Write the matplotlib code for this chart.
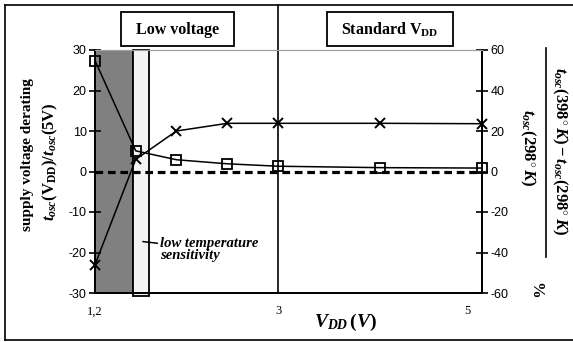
import matplotlib
matplotlib.use('Agg')
import matplotlib.pyplot as plt
from matplotlib.patches import Rectangle
from matplotlib.lines import Line2D
import matplotlib.transforms as mtransforms

plt.rcParams['font.family'] = ['Liberation Sans', 'DejaVu Sans']
plt.rcParams['axes.unicode_minus'] = False
plt.rcParams['mathtext.fontset'] = 'custom'
plt.rcParams['mathtext.rm'] = 'Liberation Serif:bold'
plt.rcParams['mathtext.it'] = 'Liberation Serif:italic:bold'
plt.rcParams['mathtext.bf'] = 'Liberation Serif:bold'

# data
vdd = [1.2, 1.6, 2.0, 2.5, 3.0, 4.0, 5.0]
derating = [27.4, 5.1, 2.9, 1.9, 1.3, 0.95, 0.85]       # left axis, squares
temp_sens = [-46, 6, 20, 23.8, 23.8, 23.8, 23.6]        # right axis (%), crosses
low_v_band = (1.2, 1.57)
low_sens_band = (1.57, 1.73)
xticks = [1.2, 3, 5]
xticklabels = ['1,2', '3', '5']

W, H = 573, 342
fig = plt.figure(figsize=(W / 100, H / 100), dpi=100)

def fx(px):
    return px / W

def fy(py):
    return 1 - py / H

# outer frame
fig.add_artist(Line2D([fx(5), 1], [fy(5), fy(5)], color='black', lw=1.2))
fig.add_artist(Line2D([fx(5), 1], [fy(340), fy(340)], color='black', lw=1.2))
fig.add_artist(Line2D([fx(5), fx(5)], [fy(5), fy(340)], color='black', lw=1.2))

ax = fig.add_axes([fx(95), fy(293), fx(482) - fx(95), fy(50) - fy(293)])
ax.set_xlim(1.2, 5)
ax.set_ylim(-30, 30)

# shaded regions
ax.add_patch(Rectangle((low_v_band[0], -30), low_v_band[1] - low_v_band[0], 60,
                       facecolor='#808080', edgecolor='black', lw=1.3, zorder=1))
ax.add_patch(Rectangle((low_sens_band[0], -30.7), low_sens_band[1] - low_sens_band[0], 60.7,
                       facecolor='#f4f4f4', edgecolor='black', lw=1.3, zorder=1,
                       clip_on=False))

# divider between low voltage and standard VDD
top_ax = (fy(5) - fy(293)) / (fy(50) - fy(293))
ax.plot([3, 3], [0, top_ax], color='black', lw=1.2,
        transform=ax.get_xaxis_transform(), clip_on=False, zorder=2)

ax.axhline(0, color='black', lw=2.3, dashes=(2.4, 1.5), zorder=3)
ax.plot(vdd, derating, color='black', lw=1.1, marker='s', ms=6.5,
        mfc='none', mec='black', mew=1.3, zorder=4, clip_on=False)

ax2 = ax.twinx()
ax2.set_ylim(-60, 60)
ax2.plot(vdd, temp_sens, color='black', lw=1.1, marker='x', ms=7, mew=1.4,
         zorder=4, clip_on=False)

for a in (ax, ax2):
    a.spines['top'].set_color('#a0a0a0')
    for s in ('left', 'right', 'bottom'):
        a.spines[s].set_linewidth(1.3)
    a.tick_params(axis='y', direction='inout', length=8, width=1.2, labelsize=9, pad=2)

ax.set_yticks(range(-30, 31, 10))
ax2.set_yticks(range(-60, 61, 20))
ax.set_xticks(xticks)
ax.set_xticklabels(xticklabels, fontfamily='Liberation Serif', fontsize=9)
ax.tick_params(axis='x', length=0, pad=9)
lbl5 = ax.get_xticklabels()[-1]
lbl5.set_transform(lbl5.get_transform() +
                   mtransforms.ScaledTranslation(-0.15, 0, fig.dpi_scale_trans))

# annotation
ax.annotate('low temperature\nsensitivity', xy=(1.67, -17.3), xytext=(1.84, -19.2),
            ha='left', va='center', fontfamily='Liberation Serif', fontweight='bold',
            fontstyle='italic', fontsize=10.5, linespacing=0.95,
            arrowprops=dict(arrowstyle='-', color='black', lw=1.1,
                            shrinkA=0, shrinkB=0), zorder=5)

# header boxes
for x0, x1, txt in [(121, 234, 'Low voltage'), (327, 453, r'Standard V$_{\mathrm{DD}}$')]:
    fig.add_artist(Rectangle((fx(x0), fy(46)), fx(x1) - fx(x0), fy(12) - fy(46),
                             transform=fig.transFigure, facecolor='white',
                             edgecolor='black', lw=1.3))
    fig.text(fx((x0 + x1) / 2), fy(29.5), txt, ha='center', va='center',
             fontfamily='Liberation Serif', fontweight='bold', fontsize=11.5)

# axis labels
fig.text(fx(345), fy(322), r'$V_{DD}\,(V)$', ha='center', va='center', fontsize=14)
fig.text(fx(28), fy(155), 'supply voltage derating', rotation=90, ha='center',
         va='center', fontfamily='Liberation Serif', fontweight='bold', fontsize=11)
fig.text(fx(50), fy(162), r'$t_{osc}(\mathrm{V}_{\mathrm{DD}})/t_{osc}(\mathrm{5V})$',
         rotation=90, ha='center', va='center', fontsize=12)

fig.text(fx(560), fy(151), r'$t_{osc}(398^{\circ}\,K)-t_{osc}(298^{\circ}\,K)$',
         rotation=-90, ha='center', va='center', fontsize=12)
fig.add_artist(Line2D([fx(546), fx(546)], [fy(48), fy(257)], color='black', lw=1.2))
fig.text(fx(528), fy(148), r'$t_{osc}(298^{\circ}\,K)$', rotation=-90,
         ha='center', va='center', fontsize=12)
fig.text(fx(535), fy(290), '%', rotation=-90, ha='center', va='center',
         fontfamily='Liberation Serif', fontweight='bold', fontsize=12)

fig.savefig('out.png', dpi=100)
